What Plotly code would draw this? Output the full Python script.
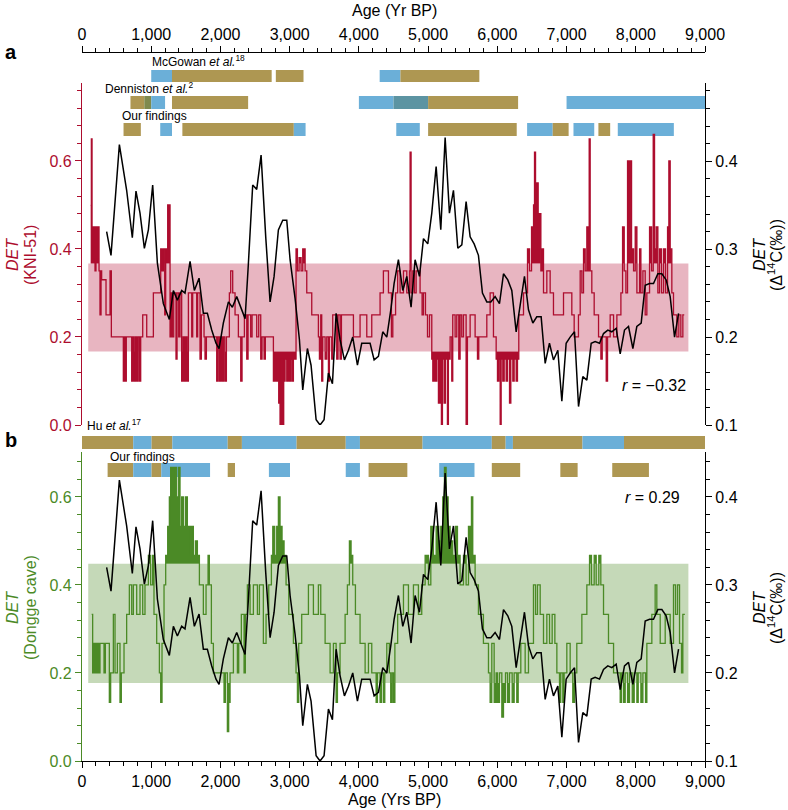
import plotly.graph_objects as go

# ---------------- DATA ----------------
# Panel a: DET of KNI-51 record (step series), (age yr BP, DET)
KNI51 = [
 (125,0.50),(135,0.65),(145,0.45),(159,0.38),(173,0.45),(188,0.35),(202,0.45),(217,0.38),(231,0.45),(246,0.35),
 (260,0.25),(275,0.35),(284,0.33),(347,0.25),(405,0.35),(424,0.20),(597,0.10),(612,0.20),(626,0.10),(640,0.20),
 (718,0.10),(732,0.20),(751,0.10),(771,0.20),(790,0.10),(809,0.20),(829,0.10),(848,0.20),(877,0.25),(935,0.20),
 (1031,0.30),(1137,0.40),(1156,0.35),(1175,0.40),(1195,0.25),(1209,0.40),(1238,0.50),(1272,0.20),(1286,0.30),(1305,0.20),
 (1325,0.30),(1358,0.15),(1373,0.30),(1397,0.20),(1416,0.30),(1440,0.10),(1460,0.20),(1479,0.10),(1498,0.20),(1517,0.10),
 (1537,0.30),(1585,0.20),(1599,0.30),(1657,0.20),(1671,0.30),(1705,0.15),(1724,0.25),(1763,0.20),(1777,0.15),(1797,0.20),
 (1946,0.10),(1965,0.20),(1985,0.10),(2004,0.20),(2023,0.10),(2042,0.20),(2062,0.10),(2086,0.20),(2129,0.30),(2148,0.35),
 (2177,0.30),(2211,0.25),(2259,0.20),(2293,0.10),(2312,0.20),(2346,0.25),(2380,0.15),(2399,0.25),(2437,0.20),(2457,0.25),
 (2524,0.20),(2553,0.25),(2582,0.15),(2601,0.20),(2630,0.15),(2649,0.20),(2765,0.10),(2784,0.15),(2803,0.10),(2823,0.15),
 (2842,0.05),(2861,0.00),(2876,0.15),(2895,0.00),(2914,0.10),(2934,0.15),(2958,0.10),(2977,0.15),(2996,0.10),(3015,0.15),
 (3035,0.10),(3054,0.15),(3092,0.40),(3112,0.35),(3136,0.38),(3165,0.35),(3189,0.40),(3223,0.35),(3247,0.30),(3319,0.25),
 (3415,0.20),(3430,0.15),(3449,0.25),(3463,0.10),(3478,0.20),(3512,0.15),(3536,0.20),(3560,0.10),(3574,0.20),(3608,0.15),
 (3622,0.25),(3680,0.15),(3699,0.25),(3728,0.15),(3748,0.25),(3921,0.20),(4017,0.25),(4114,0.20),(4186,0.25),(4306,0.30),
 (4354,0.35),(4427,0.30),(4470,0.20),(4490,0.25),(4530,0.30),(4560,0.35),(4595,0.30),(4644,0.35),(4692,0.30),(4731,0.35),
 (4740,0.62),(4754,0.30),(4779,0.35),(4803,0.30),(4827,0.35),(4884,0.30),(4913,0.25),(4933,0.30),(4962,0.25),(4991,0.20),
 (5020,0.25),(5053,0.15),(5068,0.10),(5087,0.15),(5106,0.10),(5125,0.15),(5149,0.05),(5173,0.15),(5192,0.00),(5207,0.15),
 (5231,0.05),(5250,0.15),(5279,0.00),(5293,0.15),(5318,0.20),(5342,0.10),(5356,0.25),(5390,0.20),(5414,0.25),(5443,0.15),
 (5462,0.25),(5486,0.20),(5511,0.25),(5549,0.00),(5568,0.20),(5607,0.25),(5679,0.20),(5713,0.15),(5732,0.20),(5848,0.25),
 (5896,0.30),(5944,0.20),(5983,0.15),(6002,0.10),(6021,0.15),(6041,0.00),(6055,0.15),(6079,0.10),(6099,0.15),(6127,0.10),
 (6147,0.15),(6176,0.05),(6195,0.15),(6224,0.10),(6243,0.15),(6272,0.10),(6291,0.15),(6310,0.25),(6378,0.30),(6436,0.40),
 (6465,0.35),(6494,0.45),(6523,0.50),(6537,0.62),(6552,0.45),(6571,0.55),(6590,0.40),(6609,0.48),(6629,0.35),(6648,0.40),
 (6667,0.30),(6715,0.35),(6763,0.30),(6811,0.25),(6956,0.30),(7076,0.25),(7110,0.20),(7172,0.25),(7197,0.35),(7221,0.30),
 (7245,0.40),(7269,0.35),(7293,0.45),(7312,0.35),(7327,0.65),(7341,0.35),(7365,0.30),(7399,0.25),(7462,0.20),(7496,0.15),
 (7515,0.20),(7573,0.10),(7592,0.20),(7630,0.25),(7679,0.20),(7727,0.25),(7785,0.30),(7809,0.45),(7833,0.35),(7857,0.30),
 (7881,0.60),(7900,0.40),(7919,0.60),(7939,0.40),(7968,0.35),(7992,0.45),(8016,0.30),(8055,0.40),(8074,0.30),(8103,0.35),
 (8136,0.25),(8160,0.30),(8199,0.45),(8228,0.35),(8252,0.66),(8271,0.40),(8295,0.45),(8319,0.30),(8343,0.40),(8372,0.30),
 (8401,0.40),(8430,0.30),(8459,0.45),(8478,0.60),(8497,0.40),(8521,0.30),(8545,0.25),(8593,0.20),(8622,0.25),(8651,0.20),
 (8680,0.25),(8700,0.25),
]

# Panel b: DET of Dongge cave record (step series)
DONGGE = [
 (140,0.333),(154,0.2),(169,0.267),(183,0.2),(198,0.267),(212,0.2),(226,0.267),(241,0.2),(260,0.267),(318,0.2),
 (337,0.267),(395,0.133),(414,0.2),(453,0.333),(477,0.2),(511,0.267),(549,0.133),(568,0.2),(607,0.267),(645,0.333),
 (684,0.4),(718,0.333),(742,0.4),(790,0.333),(838,0.4),(877,0.333),(910,0.4),(959,0.467),(992,0.4),(1021,0.467),
 (1040,0.333),(1079,0.267),(1118,0.2),(1137,0.133),(1156,0.267),(1185,0.4),(1209,0.467),(1238,0.533),(1262,0.6),(1281,0.667),
 (1310,0.6),(1329,0.667),(1368,0.6),(1397,0.667),(1416,0.533),(1440,0.6),(1464,0.533),(1493,0.6),(1522,0.533),(1561,0.467),
 (1580,0.533),(1609,0.467),(1638,0.5),(1667,0.467),(1696,0.4),(1753,0.333),(1792,0.4),(1821,0.467),(1840,0.4),(1869,0.267),
 (1898,0.2),(2052,0.133),(2071,0.2),(2100,0.067),(2119,0.133),(2139,0.2),(2187,0.267),(2245,0.2),(2264,0.267),(2302,0.333),
 (2341,0.2),(2360,0.333),(2389,0.4),(2428,0.333),(2476,0.4),(2534,0.333),(2563,0.4),(2620,0.267),(2659,0.333),(2698,0.4),
 (2736,0.467),(2756,0.533),(2784,0.467),(2813,0.533),(2837,0.6),(2861,0.533),(2890,0.5),(2919,0.467),(2948,0.4),(2987,0.333),
 (3054,0.267),(3092,0.2),(3112,0.133),(3131,0.267),(3174,0.333),(3271,0.4),(3343,0.333),(3415,0.4),(3449,0.333),(3512,0.267),
 (3584,0.2),(3632,0.267),(3671,0.133),(3690,0.2),(3728,0.267),(3801,0.333),(3834,0.4),(3863,0.5),(3887,0.467),(3911,0.4),
 (3950,0.333),(4017,0.267),(4090,0.2),(4138,0.267),(4186,0.2),(4249,0.133),(4268,0.2),(4306,0.133),(4326,0.2),(4354,0.133),
 (4374,0.2),(4403,0.267),(4440,0.2),(4460,0.133),(4480,0.2),(4500,0.133),(4520,0.267),(4560,0.333),(4644,0.4),(4716,0.333),
 (4788,0.4),(4860,0.333),(4908,0.4),(4957,0.467),(5005,0.4),(5039,0.533),(5077,0.467),(5116,0.533),(5154,0.5),(5183,0.533),
 (5212,0.6),(5236,0.667),(5260,0.6),(5289,0.533),(5318,0.5),(5356,0.467),(5395,0.533),(5424,0.467),(5462,0.4),(5511,0.467),
 (5549,0.4),(5583,0.533),(5607,0.467),(5626,0.6),(5645,0.467),(5679,0.4),(5727,0.333),(5799,0.267),(5872,0.2),(5896,0.133),
 (5920,0.267),(5954,0.133),(5983,0.2),(6002,0.133),(6031,0.2),(6065,0.1),(6089,0.133),(6118,0.2),(6147,0.133),(6176,0.2),
 (6214,0.133),(6243,0.2),(6281,0.133),(6301,0.2),(6339,0.267),(6402,0.2),(6450,0.267),(6522,0.4),(6552,0.333),(6580,0.4),
 (6619,0.333),(6667,0.267),(6715,0.333),(6754,0.267),(6792,0.333),(6831,0.267),(6860,0.2),(6898,0.133),(6917,0.2),(6946,0.133),
 (6965,0.2),(7004,0.267),(7052,0.2),(7090,0.133),(7115,0.2),(7148,0.267),(7221,0.333),(7293,0.4),(7332,0.467),(7360,0.4),
 (7399,0.467),(7428,0.4),(7466,0.467),(7495,0.4),(7534,0.333),(7606,0.267),(7679,0.2),(7775,0.133),(7794,0.2),(7823,0.133),
 (7847,0.2),(7881,0.133),(7910,0.2),(7948,0.133),(7977,0.2),(8016,0.133),(8035,0.2),(8074,0.133),(8103,0.2),(8141,0.133),
 (8160,0.267),(8232,0.333),(8280,0.4),(8304,0.333),(8353,0.267),(8425,0.333),(8497,0.267),(8545,0.4),(8574,0.333),(8603,0.4),
 (8632,0.267),(8661,0.2),(8680,0.333),(8709,0.333),
]

# DET of the Delta14C record (right axes, black line)
C14_AGE = [356,419,540,645,727,780,838,901,959,1021,1089,1175,1262,1320,1378,1440,1488,1561,1623,1691,
           1753,1811,1874,1936,1980,2042,2115,2172,2235,2293,2356,2404,2466,2524,2587,2654,2717,2775,2837,2900,
           2958,3006,3078,3141,3189,3256,3309,3382,3439,3497,3560,3618,3671,3728,3791,3849,3911,3979,4041,4099,
           4162,4220,4282,4345,4403,4461,4509,4571,4634,4692,4754,4812,4875,4933,4995,5053,5116,5183,5246,5308,
           5366,5429,5487,5549,5607,5665,5727,5785,5848,5906,5968,6031,6089,6151,6209,6272,6330,6392,6450,6513,
           6570,6633,6691,6753,6811,6874,6932,6994,7052,7115,7173,7235,7293,7356,7413,7476,7534,7596,7654,7717,
           7775,7837,7895,7958,8015,8078,8136,8199,8256,8319,8377,8439,8497,8560,8618]
C14_DET = [0.320,0.293,0.419,0.367,0.313,0.366,0.341,0.301,0.322,0.373,0.284,0.238,0.220,0.253,0.242,0.253,0.250,0.286,0.253,0.267,
           0.227,0.227,0.208,0.193,0.187,0.216,0.240,0.234,0.246,0.234,0.221,0.284,0.373,0.368,0.407,0.314,0.240,0.269,0.322,0.333,
           0.333,0.288,0.244,0.197,0.140,0.187,0.168,0.106,0.100,0.106,0.159,0.147,0.227,0.197,0.174,0.185,0.200,0.168,0.193,0.193,
           0.193,0.174,0.178,0.206,0.200,0.231,0.261,0.288,0.253,0.269,0.234,0.288,0.269,0.312,0.306,0.341,0.394,0.322,0.427,0.341,
           0.367,0.301,0.305,0.354,0.314,0.306,0.293,0.250,0.240,0.240,0.246,0.238,0.272,0.265,0.253,0.206,0.238,0.269,0.231,0.216,
           0.223,0.223,0.170,0.193,0.174,0.185,0.127,0.193,0.200,0.206,0.121,0.155,0.151,0.193,0.195,0.193,0.204,0.208,0.206,0.210,
           0.181,0.208,0.212,0.187,0.212,0.216,0.259,0.261,0.261,0.272,0.272,0.265,0.246,0.200,0.227]

# Shaded reference bands (mean +/- 1 s.d.) and their age extent
BAND_A = (0.167, 0.367)
BAND_B = (0.177, 0.448)
BAND_AGE = (90, 8760)

R_A = "\u22120.32"
R_B = "0.29"

# Climate-period bars: (start age, end age, kind)  kind: w=khaki, c=blue, o/ow=overlap
MCGOWAN = [(1000,1300,'c'),(1300,2740,'w'),(2800,3200,'w'),(4300,4600,'c'),(4600,5740,'w')]
DENNISTON = [(700,900,'w'),(900,1000,'ow'),(1000,1200,'c'),(1300,2400,'w'),(4000,4500,'c'),(4500,5000,'o'),
             (5000,6300,'w'),(7000,9000,'c')]
OURS_A = [(600,850,'w'),(1130,1300,'c'),(1450,3060,'w'),(3060,3230,'c'),(4540,4880,'c'),(5000,6280,'w'),
          (6430,6800,'c'),(6800,7030,'w'),(7100,7400,'c'),(7460,7630,'w'),(7740,8550,'c')]
HU = [(0,740,'w'),(740,1005,'c'),(1005,1305,'w'),(1305,2105,'c'),(2105,2310,'w'),(2310,3100,'c'),(3100,3810,'w'),
      (3810,4015,'c'),(4015,4920,'w'),(4920,5920,'c'),(5920,6120,'w'),(6120,6225,'c'),(6225,7230,'w'),
      (7230,7830,'c'),(7830,9000,'w')]
OURS_B = [(370,740,'w'),(740,1005,'c'),(1005,1145,'w'),(1145,1850,'c'),(2105,2210,'w'),(2700,3005,'c'),
          (3810,4015,'c'),(4140,4700,'w'),(5160,5670,'c'),(5920,6330,'w'),(6910,7160,'w'),(7660,8190,'w')]

X_TICKS = [0,1000,2000,3000,4000,5000,6000,7000,8000,9000]

# ---------------- STYLE / LAYOUT ----------------
W, H = 788, 810
PL, PR = 82, 705           # plot-area pixel extent (left, right)
FONT = "Liberation Sans, Arial, sans-serif"
RED = "#AD0D2E"
PINK = "rgba(214,120,142,0.55)"
GREEN = "#4B8A26"
LGREEN = "rgba(150,185,125,0.55)"
KHAKI = "#AE9752"
BLUE = "#6BAFD8"
OVER = "#5C94A2"
OVERW = "#7F8A4E"
COL = {'w': KHAKI, 'c': BLUE, 'o': OVER, 'ow': OVERW}


def fx(px):
    return (px - PL) / (PR - PL)


def fy(py):
    return 1 - py / H


def steps(pairs):
    a = [p[0] for p in pairs]
    v = [p[1] for p in pairs]
    return a, v


fig = go.Figure()


def add_step_panel(pairs, band, color, xa, ya):
    a, v = steps(pairs)
    lo, hi = band
    top = [max(x, hi) for x in v]
    bot = [min(x, lo) for x in v]
    common = dict(x=a, xaxis=xa, yaxis=ya, mode="lines", hoverinfo="skip", showlegend=False)
    fig.add_trace(go.Scatter(y=[hi] * len(a), line=dict(width=0, shape="hv"), **common))
    fig.add_trace(go.Scatter(y=top, line=dict(width=0, shape="hv"), fill="tonexty", fillcolor=color, **common))
    fig.add_trace(go.Scatter(y=[lo] * len(a), line=dict(width=0, shape="hv"), **common))
    fig.add_trace(go.Scatter(y=bot, line=dict(width=0, shape="hv"), fill="tonexty", fillcolor=color, **common))
    fig.add_trace(go.Scatter(y=v, line=dict(width=1.3, color=color, shape="hv"), **common))


add_step_panel(KNI51, BAND_A, RED, "x", "y")
fig.add_trace(go.Scatter(x=C14_AGE, y=C14_DET, xaxis="x", yaxis="y2", mode="lines",
                         line=dict(color="black", width=1.5), hoverinfo="skip", showlegend=False))
add_step_panel(DONGGE, BAND_B, GREEN, "x2", "y3")
fig.add_trace(go.Scatter(x=C14_AGE, y=C14_DET, xaxis="x2", yaxis="y4", mode="lines",
                         line=dict(color="black", width=1.5), hoverinfo="skip", showlegend=False))

shapes = []
shapes.append(dict(type="rect", xref="x", yref="y", x0=BAND_AGE[0], x1=BAND_AGE[1], y0=BAND_A[0], y1=BAND_A[1],
                   fillcolor=PINK, line=dict(width=0), layer="below"))
shapes.append(dict(type="rect", xref="x2", yref="y3", x0=BAND_AGE[0], x1=BAND_AGE[1], y0=BAND_B[0], y1=BAND_B[1],
                   fillcolor=LGREEN, line=dict(width=0), layer="below"))


def bar_row(items, xref, ptop, pbot):
    for s, e, k in items:
        shapes.append(dict(type="rect", xref=xref, yref="paper", x0=s, x1=e, y0=fy(pbot), y1=fy(ptop),
                           fillcolor=COL[k], line=dict(width=0), layer="below"))


bar_row(MCGOWAN, "x", 70, 82)
bar_row(DENNISTON, "x", 96, 109)
bar_row(OURS_A, "x", 123, 136)
bar_row(HU, "x2", 436, 449)
bar_row(OURS_B, "x2", 463, 477)

tickfont = dict(family=FONT, size=16, color="black")
xcommon = dict(range=[0, 9000], domain=[0, 1], showgrid=False, zeroline=False, tickvals=X_TICKS,
               tickformat=",", ticks="outside", ticklen=6, tickwidth=1, showline=True, linewidth=1.2,
               linecolor="black", tickcolor="black", tickfont=tickfont,
               minor=dict(dtick=200, tick0=0, ticklen=3.5, tickwidth=1, tickcolor="black", ticks="outside"))


def ycommon(color, rng, dom, dt, mdt, fmt, side):
    return dict(range=rng, domain=dom, showgrid=False, zeroline=False, dtick=dt, tick0=rng[0] if side == "right" else 0,
                tickformat=fmt, ticks="outside", ticklen=6, tickwidth=1, showline=True, linewidth=1.2,
                linecolor=color, tickcolor=color, tickfont=dict(family=FONT, size=16, color=color), side=side,
                minor=dict(dtick=mdt, ticklen=3.5, tickwidth=1, tickcolor=color, ticks="outside"))


dom_a = [fy(425), fy(83)]
dom_b = [fy(761), fy(452)]

fig.update_layout(
    width=W, height=H,
    margin=dict(l=PL, r=W - PR, t=0, b=0, autoexpand=False),
    paper_bgcolor="white", plot_bgcolor="rgba(0,0,0,0)",
    font=dict(family=FONT, size=16, color="black"),
    xaxis=dict(side="top", anchor="free", position=fy(52), **xcommon),
    xaxis2=dict(side="bottom", anchor="y3", **xcommon),
    yaxis=dict(anchor="x", **ycommon(RED, [0, 0.777], dom_a, 0.2, 0.04, ".1f", "left")),
    yaxis2=dict(anchor="x", overlaying="y", **ycommon("black", [0.1, 0.489], dom_a, 0.1, 0.02, ".1f", "right")),
    yaxis3=dict(anchor="x2", **ycommon(GREEN, [0, 0.702], dom_b, 0.2, 0.04, ".1f", "left")),
    yaxis4=dict(anchor="x2", overlaying="y3", **ycommon("black", [0.1, 0.451], dom_b, 0.1, 0.02, ".1f", "right")),
    shapes=shapes,
)


def ann(text, px, py, size=16, color="black", xanchor="center", angle=0, bold=False):
    if bold:
        text = "<b>" + text + "</b>"
    fig.add_annotation(text=text, x=fx(px), y=fy(py), xref="paper", yref="paper", showarrow=False,
                       xanchor=xanchor, yanchor="middle", textangle=angle,
                       font=dict(family=FONT, size=size, color=color))


ann("Age (Yr BP)", 394, 10)
ann("Age (Yrs BP)", 394, 799)
ann("a", 11, 52, size=20, bold=True)
ann("b", 11, 440, size=20, bold=True)
# rotated two-line axis titles, one annotation per line
ann("<i>DET</i>", 12, 255, color=RED, angle=-90)
ann("(KNI-51)", 30, 255, color=RED, angle=-90)
ann("<i>DET</i>", 759, 255, angle=-90)
ann("(\u0394<sup>14</sup>C(\u2030))", 775, 255, angle=-90)
ann("<i>DET</i>", 12, 608, color=GREEN, angle=-90)
ann("(Dongge cave)", 30, 608, color=GREEN, angle=-90)
ann("<i>DET</i>", 759, 608, angle=-90)
ann("(\u0394<sup>14</sup>C(\u2030))", 775, 608, angle=-90)
ann("McGowan <i>et al.</i><sup>18</sup>", 150, 61, size=12, xanchor="left")
ann("Denniston <i>et al.</i><sup>2</sup>", 103, 88, size=12, xanchor="left")
ann("Our findings", 120, 116, size=12, xanchor="left")
ann("Hu <i>et al.</i><sup>17</sup>", 85, 425, size=12, xanchor="left")
ann("Our findings", 108, 457, size=12, xanchor="left")
ann("<i>r</i> = " + R_A, 688, 385, xanchor="right")
ann("<i>r</i> = " + R_B, 682, 497, xanchor="right")

fig.write_html("out.html", config={"displayModeBar": False},
               post_script="document.body.style.margin='0px';")
